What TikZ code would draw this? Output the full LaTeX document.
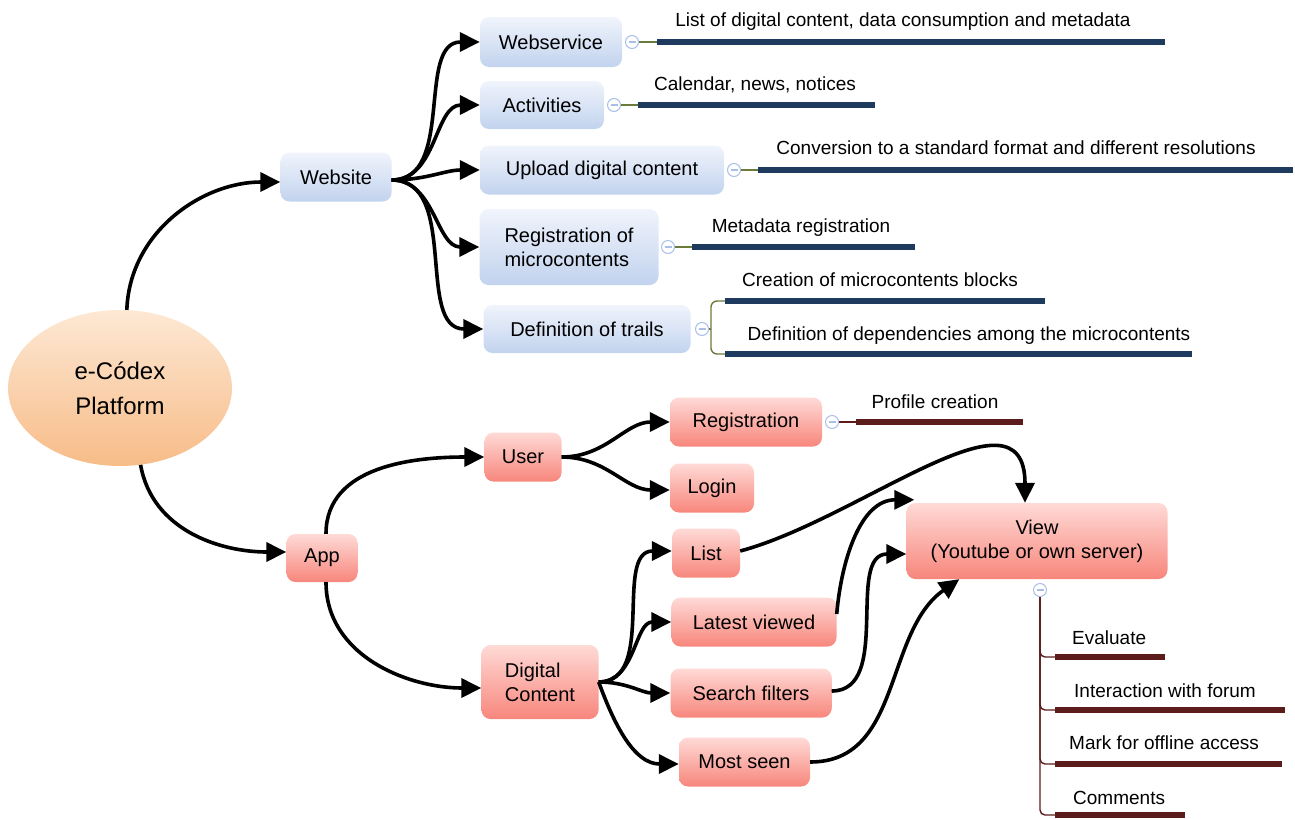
\documentclass[tikz,border=0pt]{standalone}
\usepackage{fontspec}
\setmainfont{Liberation Sans}
\usetikzlibrary{arrows.meta,shapes.geometric}
\definecolor{bluetop}{HTML}{F0F4FC}
\definecolor{bluebot}{HTML}{C2D3EE}
\definecolor{redtop}{HTML}{FFDAD6}
\definecolor{redbot}{HTML}{F7867C}
\definecolor{orgtop}{HTML}{FDE8D4}
\definecolor{orgbot}{HTML}{F7BC88}
\definecolor{navy}{HTML}{1F3A5F}
\definecolor{maroonbar}{HTML}{5C1C1C}
\definecolor{togg}{HTML}{A9BEE8}
\definecolor{olivel}{HTML}{6B7B3A}
\tikzset{
  boxbase/.style={rounded corners=9pt, draw=none, minimum height=49pt, inner sep=0pt,
    font=\fontsize{20}{24}\selectfont},
  bbox/.style={boxbase, top color=bluetop, bottom color=bluebot},
  rbox/.style={boxbase, top color=redtop, bottom color=redbot},
  rootnode/.style={ellipse, top color=orgtop, bottom color=orgbot, draw=none,
    minimum width=224pt, minimum height=156pt, inner sep=0pt, align=center,
    font=\fontsize{24}{35}\selectfont},
  arr/.style={line width=3.6pt, -{Triangle[length=20pt,width=19pt]}},
  tog/.style={circle, draw=togg, fill=white, line width=1pt, minimum size=13pt, inner sep=0pt,
    path picture={\draw[togg, line width=1.2pt]
      ([xshift=-3.5pt]path picture bounding box.center) -- ([xshift=3.5pt]path picture bounding box.center);}},
  nbar/.style={navy, line width=6pt},
  mbar/.style={maroonbar, line width=6pt},
  thinol/.style={olivel, line width=1.4pt},
  thinmr/.style={maroonbar, line width=1.4pt},
  lbl/.style={font=\fontsize{19}{23}\selectfont, inner sep=0pt, anchor=base}
}
\begin{document}
\begin{tikzpicture}[x=1pt,y=-1pt]
\useasboundingbox (0,0) rectangle (1295,819);

% root
\node[rootnode] (root) at (120,388) {e-Códex\\Platform};

% website branch
\node[bbox, minimum width=111pt] (web) at (336,177) {Website};
\node[bbox, minimum width=142pt, minimum height=50pt] (ws) at (551,42) {Webservice};
\node[bbox, minimum width=124pt, minimum height=48pt] (act) at (542,105) {Activities};
\node[bbox, minimum width=244pt] (upl) at (602,170) {Upload digital content};
\node[bbox, minimum width=179pt, minimum height=76pt, align=left] (reg) at (569,247) {Registration of\\microcontents};
\node[bbox, minimum width=207pt, minimum height=48pt] (def) at (587,329) {Definition of trails};

% app branch
\node[rbox, minimum width=71pt, minimum height=48pt] (app) at (322,558) {App};
\node[rbox, minimum width=77pt] (user) at (523,457) {User};
\node[rbox, minimum width=152pt] (rreg) at (746,422) {Registration};
\node[rbox, minimum width=84pt] (login) at (712,488) {Login};
\node[rbox, minimum width=117pt, minimum height=74pt, align=left] (dc) at (540,682) {Digital\\Content};
\node[rbox, minimum width=68pt] (list) at (706,553) {List};
\node[rbox, minimum width=165pt] (lat) at (754,622) {Latest viewed};
\node[rbox, minimum width=161pt] (srch) at (751,693) {Search filters};
\node[rbox, minimum width=131pt] (most) at (744.5,762) {Most seen};
\node[rbox, minimum width=261pt, minimum height=76pt, align=center] (view) at (1037,541) {View\\(Youtube or own server)};

% arrows
\draw[arr] (root.85) to[out=88,in=180] ([yshift=-5pt]web.west);
\draw[arr] (root.-75) to[out=-80,in=180] ([yshift=6pt]app.west);

\draw[arr] ([yshift=-3pt]web.east) to[out=0,in=180] (ws.west);
\draw[arr] ([yshift=-3pt]web.east) to[out=0,in=180] (act.west);
\draw[arr] ([yshift=-3pt]web.east) to[out=0,in=180] (upl.west);
\draw[arr] ([yshift=-3pt]web.east) to[out=0,in=180] (reg.west);
\draw[arr] ([yshift=-3pt]web.east) to[out=0,in=180] (def.west);

\draw[arr] ([xshift=4pt]app.north) to[out=90,in=180] (user.west);
\draw[arr] ([xshift=4pt]app.south) to[out=-90,in=180] ([yshift=-6pt]dc.west);

\draw[arr] (user.east) to[out=0,in=180] (rreg.west);
\draw[arr] (user.east) to[out=0,in=180] ([yshift=-2pt]login.west);

\draw[arr] (dc.east) to[out=0,in=180] ([yshift=2pt]list.west);
\draw[arr] (dc.east) to[out=0,in=180] (lat.west);
\draw[arr] (dc.east) to[out=0,in=180] (srch.west);
\draw[arr] (dc.east) to[out=-70,in=180] ([yshift=-2pt]most.west);

\draw[arr] ([yshift=2pt]list.east) to[out=15,in=90,looseness=1.1] ([xshift=-12pt]view.north);
\draw[arr] ([yshift=8pt]lat.east) to[out=85,in=180] ([xshift=8pt,yshift=3pt]view.north west);
\draw[arr] ([yshift=2pt]srch.east) to[out=0,in=180] ([yshift=-13pt]view.west);
\draw[arr] (most.east) to[out=0,in=215] ([xshift=53pt]view.south west);

% navy sub-branches
\node[tog] (t1) at (632,42) {};
\coordinate (b1a) at (657,42); \coordinate (b1b) at (1165,42);
\draw[thinol] (t1) -- (b1a); \draw[nbar] (b1a) -- (b1b);
\node[lbl] (l1) at (903,26) {List of digital content, data consumption and metadata};

\node[tog] (t2) at (614,105) {};
\coordinate (b2a) at (638,105); \coordinate (b2b) at (875,105);
\draw[thinol] (t2) -- (b2a); \draw[nbar] (b2a) -- (b2b);
\node[lbl] (l2) at (755,90) {Calendar, news, notices};

\node[tog] (t3) at (734,170) {};
\coordinate (b3a) at (758,170); \coordinate (b3b) at (1293,170);
\draw[thinol] (t3) -- (b3a); \draw[nbar] (b3a) -- (b3b);
\node[lbl] (l3) at (1016,154) {Conversion to a standard format and different resolutions};

\node[tog] (t4) at (668,247) {};
\coordinate (b4a) at (692,247); \coordinate (b4b) at (915,247);
\draw[thinol] (t4) -- (b4a); \draw[nbar] (b4a) -- (b4b);
\node[lbl] (l4) at (801,232) {Metadata registration};

\node[tog] (t5) at (702,329) {};
\coordinate (j5) at (711,329);
\coordinate (b5a) at (725,301); \coordinate (b5b) at (1045,301);
\coordinate (b5c) at (725,354); \coordinate (b5d) at (1192,354);
\draw[thinol] (t5) -- (j5);
\draw[thinol, rounded corners=6pt] (b5a) -| (j5) |- (b5c);
\draw[nbar] (b5a) -- (b5b);
\draw[nbar] (b5c) -- (b5d);
\node[lbl] (l5a) at (880,286) {Creation of microcontents blocks};
\node[lbl] (l5b) at (969,340) {Definition of dependencies among the microcontents};

% maroon sub-branches
\node[tog] (t6) at (832,422) {};
\coordinate (b6a) at (856,422); \coordinate (b6b) at (1023,422);
\draw[thinmr] (t6) -- (b6a); \draw[mbar] (b6a) -- (b6b);
\node[lbl] (l6) at (935,408) {Profile creation};

\node[tog] (t7) at (1040,590) {};
\coordinate (v1a) at (1055,657); \coordinate (v1b) at (1165,657);
\coordinate (v2a) at (1055,710); \coordinate (v2b) at (1285,710);
\coordinate (v3a) at (1055,764); \coordinate (v3b) at (1282,764);
\coordinate (v4a) at (1055,815); \coordinate (v4b) at (1185,815);
\draw[thinmr, rounded corners=5pt] (t7.south) |- (v1a);
\draw[thinmr, rounded corners=5pt] (t7.south) |- (v2a);
\draw[thinmr, rounded corners=5pt] (t7.south) |- (v3a);
\draw[thinmr, rounded corners=5pt] (t7.south) |- (v4a);
\draw[mbar] (v1a) -- (v1b);
\draw[mbar] (v2a) -- (v2b);
\draw[mbar] (v3a) -- (v3b);
\draw[mbar] (v4a) -- (v4b);
\node[lbl, anchor=base west] (l7) at (1072,644) {Evaluate};
\node[lbl, anchor=base west] (l8) at (1074,697) {Interaction with forum};
\node[lbl, anchor=base west] (l9) at (1069,749) {Mark for offline access};
\node[lbl, anchor=base west] (l10) at (1073,804) {Comments};
\end{tikzpicture}
\end{document}
